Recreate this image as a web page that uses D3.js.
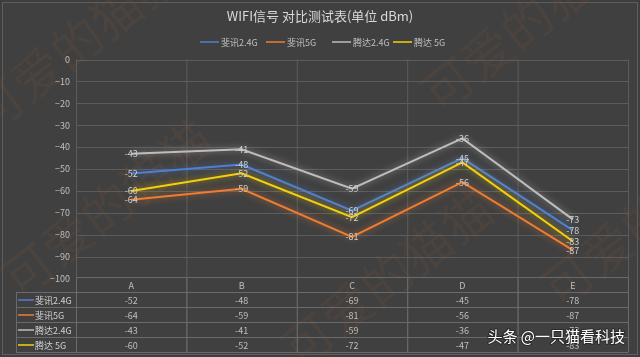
<!DOCTYPE html>
<html>
<head>
<meta charset="utf-8">
<script src="https://cdn.jsdelivr.net/npm/d3@7"></script>
<style>
  body { margin: 0; background: #3e3e3e; }
  svg { display: block; font-family: "Noto Sans CJK SC", "Noto Sans", sans-serif; }
</style>
</head>
<body>
<div id="chart"></div>
<script>
const categories = ["A", "B", "C", "D", "E"];
const seriesNames = ["斐讯2.4G", "斐讯5G", "腾达2.4G", "腾达 5G"];
const phicomm24 = [-52, -48, -69, -45, -78];
const phicomm5 = [-64, -59, -81, -56, -87];
const tenda24 = [-43, -41, -59, -36, -73];
const tenda5 = [-60, -52, -72, -47, -83];
const yTicks = [0, -10, -20, -30, -40, -50, -60, -70, -80, -90, -100];
const colors = ["#4f7fd0", "#ee7d31", "#bdbdbd", "#f5cf0a"];
const title = "WIFI信号 对比测试表(单位 dBm)";

const series = seriesNames.map((name, i) => ({
    name, color: colors[i], values: [phicomm24, phicomm5, tenda24, tenda5][i]
}));

const width = 640, height = 357;
const svg = d3.select("#chart").append("svg")
    .attr("width", width).attr("height", height);

const defs = svg.append("defs");
const glow = defs.append("filter").attr("id", "glow")
    .attr("x", "-10%").attr("y", "-30%").attr("width", "120%").attr("height", "160%");
glow.append("feGaussianBlur").attr("in", "SourceGraphic").attr("stdDeviation", 3.5).attr("result", "b");
glow.append("feComponentTransfer").attr("in", "b").attr("result", "b2")
    .append("feFuncA").attr("type", "linear").attr("slope", 0.7);
const merge = glow.append("feMerge");
merge.append("feMergeNode").attr("in", "b2");
merge.append("feMergeNode").attr("in", "SourceGraphic");

// background + frame
svg.append("rect").attr("x", 0).attr("y", 0).attr("width", width).attr("height", height).attr("fill", "#3e3e3e");
svg.append("rect").attr("x", 2.5).attr("y", 2.5).attr("width", 635).attr("height", 352)
    .attr("fill", "#404040").attr("stroke", "#5e5e5e");

// watermark
const wm = svg.append("g").attr("fill", "#7a5038").attr("opacity", 0.2)
    .style("font-size", "50px");
[[-10, 135], [20, 300], [300, 370], [440, 115], [560, 310]].forEach(([x, y]) => {
    wm.append("text").attr("transform", `translate(${x},${y}) rotate(-38)`).text("可爱的猫猫");
});

const left = 76, right = 628;
const x = d3.scaleBand().domain(categories).range([left, right]);
const y = d3.scaleLinear().domain([-100, 0]).range([278.5, 59.5]);

// title
svg.append("text").attr("x", 320).attr("y", 21).attr("text-anchor", "middle")
    .attr("fill", "#d9d9d9").style("font-size", "13px").text(title);

// legend
const legendX = [200, 266, 332, 393];
const lg = svg.append("g").selectAll("g").data(series).join("g")
    .attr("transform", (d, i) => `translate(${legendX[i]},42)`);
lg.append("line").attr("x1", 0).attr("x2", 19).attr("stroke", d => d.color).attr("stroke-width", 1.5);
lg.append("text").attr("x", 21).attr("y", 3.5).attr("fill", "#bfbfbf")
    .style("font-size", "9px").text(d => d.name);

// gridlines
const grid = svg.append("g").attr("stroke", "#5c5c5c").attr("stroke-width", 1);
grid.selectAll("line.h").data(yTicks.slice(0, -1)).join("line")
    .attr("x1", left).attr("x2", right)
    .attr("y1", d => Math.round(y(d)) + 0.5).attr("y2", d => Math.round(y(d)) + 0.5);
const bounds = categories.map(c => x(c)).concat([right]);
grid.selectAll("line.v").data(bounds).join("line")
    .attr("x1", d => d + 0.5).attr("x2", d => d + 0.5)
    .attr("y1", 59.5).attr("y2", 352);

// y axis
const yAxis = svg.append("g").attr("transform", `translate(${left - 6},0)`)
    .call(d3.axisLeft(y).tickValues(yTicks).tickSize(0).tickPadding(0));
yAxis.select(".domain").remove();
yAxis.selectAll("text").attr("fill", "#bfbfbf").style("font-size", "9px")
    .style("font-family", "\"Noto Sans CJK SC\", sans-serif");

// table
const rowH = 15, tableTop = 277.5;
const tb = svg.append("g");
tb.append("line").attr("x1", left).attr("x2", right).attr("y1", tableTop).attr("y2", tableTop)
    .attr("stroke", "#6a6a6a");
d3.range(1, 6).forEach(r => {
    tb.append("line").attr("x1", 16).attr("x2", right)
        .attr("y1", tableTop + r * rowH).attr("y2", tableTop + r * rowH).attr("stroke", "#6a6a6a");
});
tb.append("line").attr("x1", 16.5).attr("x2", 16.5).attr("y1", tableTop + rowH).attr("y2", tableTop + 5 * rowH)
    .attr("stroke", "#6a6a6a");
bounds.forEach(b => tb.append("line").attr("x1", b + 0.5).attr("x2", b + 0.5)
    .attr("y1", tableTop).attr("y2", tableTop + 5 * rowH).attr("stroke", "#6a6a6a"));
tb.selectAll("text.cat").data(categories).join("text")
    .attr("x", d => x(d) + x.bandwidth() / 2).attr("y", tableTop + 11)
    .attr("text-anchor", "middle").attr("fill", "#bfbfbf").style("font-size", "9px").text(d => d);
const rows = tb.selectAll("g.row").data(series).join("g")
    .attr("transform", (d, i) => `translate(0,${tableTop + (i + 1) * rowH})`);
rows.append("line").attr("x1", 18).attr("x2", 34).attr("y1", 7.5).attr("y2", 7.5)
    .attr("stroke", d => d.color).attr("stroke-width", 1.5);
rows.append("text").attr("x", 35).attr("y", 11).attr("fill", "#d0d0d0").style("font-size", "9px").text(d => d.name);
rows.each(function(s) {
    d3.select(this).selectAll("text.v").data(s.values).join("text")
        .attr("x", (d, i) => x(categories[i]) + x.bandwidth() / 2).attr("y", 11)
        .attr("text-anchor", "middle").attr("fill", "#bfbfbf").style("font-size", "9px").text(d => d);
});

// lines
const line = d3.line().x((d, i) => x(categories[i]) + x.bandwidth() / 2).y(d => y(d));
svg.append("g").selectAll("path").data(series).join("path")
    .attr("d", d => line(d.values)).attr("fill", "none")
    .attr("stroke", d => d.color).attr("stroke-width", 2).attr("filter", "url(#glow)");

// point labels
const lbl = svg.append("g");
series.forEach(s => {
    lbl.selectAll(null).data(s.values).join("text")
        .attr("x", (d, i) => x(categories[i]) + x.bandwidth() / 2)
        .attr("y", d => y(d) + 3.5).attr("text-anchor", "middle")
        .attr("fill", "#d0d0d0").style("font-size", "9px").text(d => d);
});

// source mark
svg.append("text").attr("x", 625).attr("y", 342).attr("text-anchor", "end")
    .attr("fill", "#ffffff").style("font-size", "15px")
    .style("paint-order", "stroke").attr("stroke", "rgba(0,0,0,0.35)").attr("stroke-width", 2)
    .text("头条 @一只猫看科技");
</script>
</body>
</html>
